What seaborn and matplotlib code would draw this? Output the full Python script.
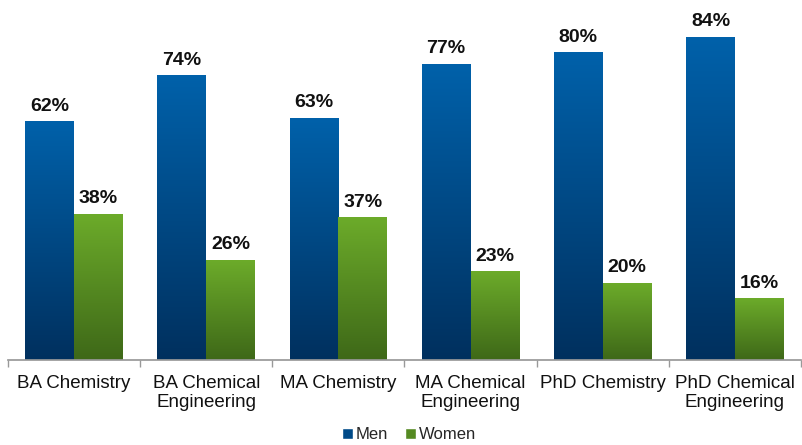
import seaborn as sns
import pandas as pd
import numpy as np
import matplotlib.pyplot as plt
from matplotlib.colors import LinearSegmentedColormap
from matplotlib.patches import Patch

sns.set_theme(style="white")
plt.rcParams['font.family'] = ['Liberation Sans', 'DejaVu Sans']

degrees = ["BA Chemistry", "BA Chemical\nEngineering", "MA Chemistry",
           "MA Chemical\nEngineering", "PhD Chemistry", "PhD Chemical\nEngineering"]
men = [62, 74, 63, 77, 80, 84]
women = [38, 26, 37, 23, 20, 16]

df = pd.DataFrame({
    "degree": degrees * 2,
    "pct": men + women,
    "gender": ["Men"] * len(degrees) + ["Women"] * len(degrees),
})

# top colour, bottom colour for the gradient fill
grad = {"Men": ("#0061aa", "#00305e"), "Women": ("#6cab2a", "#3e6818")}
mid = {"Men": "#004a88", "Women": "#558a22"}

fig = plt.figure(figsize=(8.02, 4.45), dpi=100)
ax = fig.add_axes([8 / 802, 1 - 360 / 445, 793 / 802, 360 / 445])

sns.barplot(data=df, x="degree", y="pct", hue="gender", palette=mid,
            width=0.74, legend=False, ax=ax, saturation=1)

for cont, g in zip(ax.containers, ["Men", "Women"]):
    cmap = LinearSegmentedColormap.from_list(g, [grad[g][1], grad[g][0]])
    for bar in cont:
        x0, y0 = bar.get_x(), bar.get_y()
        w, h = bar.get_width(), bar.get_height()
        ax.imshow(np.linspace(0, 1, 256).reshape(-1, 1), cmap=cmap, origin="lower",
                  extent=[x0, x0 + w, y0, y0 + h], aspect="auto", zorder=2)
        bar.set_facecolor("none")
        bar.set_edgecolor("none")
    ax.bar_label(cont, labels=[f"{int(v)}%" for v in cont.datavalues],
                 padding=5, fontsize=14, fontweight="bold", color="#111111")

ax.set_xlim(-0.5, 5.5)
ax.set_ylim(0, 93.75)
ax.set_xlabel("")
ax.set_ylabel("")
ax.set_yticks([])
for s in ["top", "right", "left"]:
    ax.spines[s].set_visible(False)
ax.spines["bottom"].set_color("#999999")
ax.set_xticks(np.arange(-0.5, 6.0, 1.0), minor=True)
ax.tick_params(axis="x", which="major", length=0, pad=11, labelsize=13.5, labelcolor="#111111")
ax.tick_params(axis="x", which="minor", length=5, color="#999999", bottom=True)
for t in ax.get_xticklabels():
    t.set_linespacing(1.15)

handles = [Patch(facecolor=mid[g], label=g) for g in ["Men", "Women"]]
fig.legend(handles=handles, loc="lower center", bbox_to_anchor=(0.51, -0.027), ncol=2,
           frameon=False, fontsize=12, handlelength=0.65, handleheight=0.65,
           handletextpad=0.2, columnspacing=1.0)

fig.savefig("out.png", dpi=100)
